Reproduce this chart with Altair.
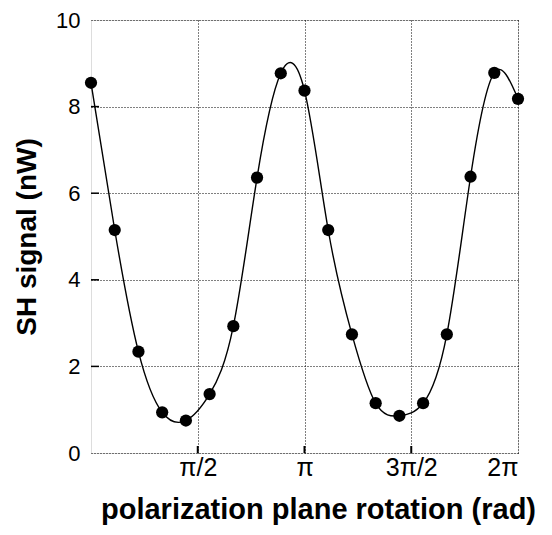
import altair as alt
import pandas as pd

# rotation angle of polarization plane (degrees), measured every 20 deg
angle_deg = [0, 20, 40, 60, 80, 100, 120, 140, 160, 180,
             200, 220, 240, 260, 280, 300, 320, 340, 360]
# SH signal (nW)
sh_signal = [8.55, 5.15, 2.34, 0.94, 0.75, 1.36, 2.93, 6.36, 8.77, 8.37,
             5.15, 2.74, 1.15, 0.86, 1.15, 2.74, 6.38, 8.78, 8.18]

x_tick_values = [90, 180, 270, 360]
x_tick_labels = ["π/2", "π", "3π/2", "2π"]
y_tick_values = [0, 2, 4, 6, 8, 10]

df = pd.DataFrame({"angle": angle_deg, "signal": sh_signal})
xticks_df = pd.DataFrame({"v": x_tick_values[:-1]})
yticks_df = pd.DataFrame({"v": y_tick_values[1:-1]})

label_expr = " : ".join(
    f"datum.value == {v} ? '{l}'" for v, l in zip(x_tick_values, x_tick_labels)
) + " : ''"

W, H = 427, 433
FONT = "Liberation Sans"

xscale = alt.Scale(domain=[0, 360], nice=False, zero=False)
yscale = alt.Scale(domain=[0, 10], nice=False)

x_axis = alt.Axis(
    values=x_tick_values, labelExpr=label_expr, ticks=False, domain=False,
    grid=True, gridDash=[1, 2], gridColor="black", gridOpacity=1, gridWidth=1,
    labelFont=FONT, labelFontSize=25, labelColor="black", labelPadding=2,
    title="polarization plane rotation  (rad)", titleFont=FONT,
    titleFontSize=29, titleFontWeight="bold", titleColor="black",
    titleX=227, titleY=65, titleBaseline="alphabetic", titleAlign="center",
)
y_axis = alt.Axis(
    values=y_tick_values, ticks=False, domain=False,
    grid=True, gridDash=[1, 2], gridColor="black", gridOpacity=1, gridWidth=1,
    labelFont=FONT, labelFontSize=22, labelColor="black", labelPadding=11,
    title="SH signal (nW)", titleFont=FONT, titleFontSize=28,
    titleFontWeight="bold", titleColor="black", titlePadding=14,
)

base = alt.Chart(df)

line = base.mark_line(color="black", strokeWidth=1.4, interpolate="natural").encode(
    x=alt.X("angle:Q", scale=xscale, axis=x_axis),
    y=alt.Y("signal:Q", scale=yscale, axis=y_axis),
)
points = base.mark_circle(color="black", opacity=1, size=150).encode(
    x=alt.X("angle:Q", scale=xscale),
    y=alt.Y("signal:Q", scale=yscale),
)

xticks = alt.Chart(xticks_df).mark_rule(color="black", strokeWidth=2, y2Offset=-7).encode(
    x=alt.X("v:Q", scale=xscale),
    y=alt.datum(0),
    y2=alt.datum(0),
)
yticks = alt.Chart(yticks_df).mark_rule(color="black", strokeWidth=1.5, x2Offset=8).encode(
    y=alt.Y("v:Q", scale=yscale),
    x=alt.datum(0),
    x2=alt.datum(0),
)

chart = alt.layer(line, xticks, yticks, points).properties(
    width=W, height=H,
    autosize=alt.AutoSizeParams(type="none"),
    padding={"left": 83, "top": 12, "right": 26, "bottom": 74},
).configure_view(stroke="black", strokeWidth=1.5).configure(background="white")

chart.save("out.html", embed_options={"renderer": "svg", "actions": False})
